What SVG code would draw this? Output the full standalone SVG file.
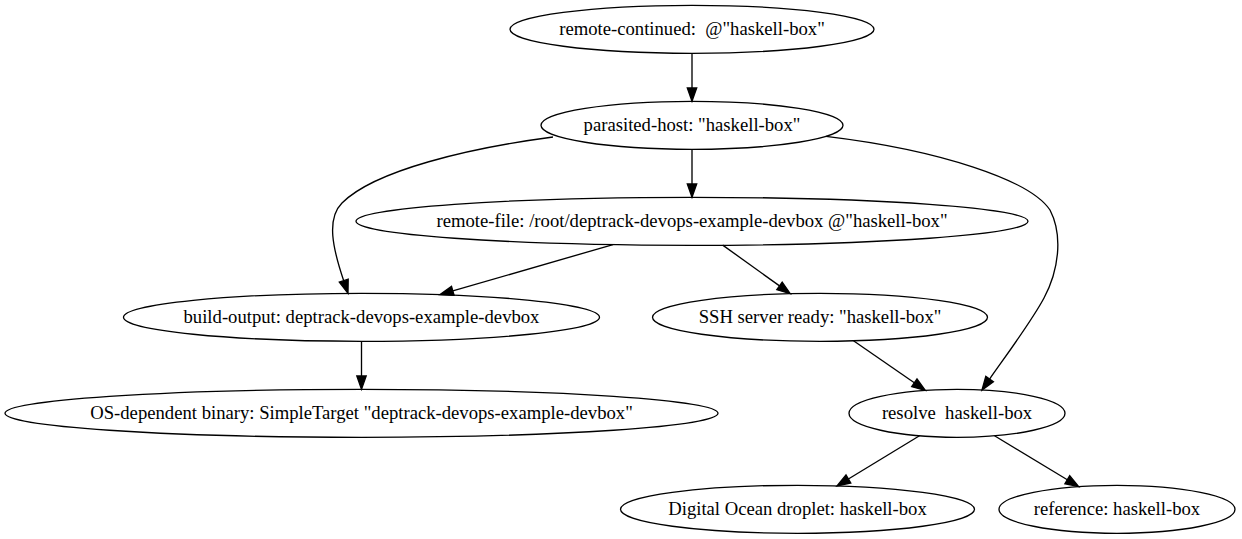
<svg xmlns="http://www.w3.org/2000/svg" width="1242" height="539" viewBox="0 0 1242 539">
<style>
.node ellipse{fill:none;stroke:#000;stroke-width:1.33}
.node text{font-size:18.67px;text-anchor:middle;fill:#000;white-space:pre}
.edge path{fill:none;stroke:#000;stroke-width:1.33}
.edge polygon{fill:#000;stroke:#000;stroke-width:1.33}
</style>
<rect width="1242" height="539" fill="#fff"/>
<g id="nodes" font-family="Liberation Serif, DejaVu Serif, serif">
<g id="n1" class="node"><ellipse cx="692" cy="29.3" rx="182" ry="24"/><text x="692" y="34.9" xml:space="preserve">remote-continued:  @"haskell-box"</text></g>
<g id="n2" class="node"><ellipse cx="692" cy="125.3" rx="151" ry="24"/><text x="692" y="130.9">parasited-host: "haskell-box"</text></g>
<g id="n3" class="node"><ellipse cx="692" cy="221.3" rx="336" ry="24"/><text x="692" y="226.9">remote-file: /root/deptrack-devops-example-devbox @"haskell-box"</text></g>
<g id="n4" class="node"><ellipse cx="361.5" cy="317.3" rx="238" ry="24"/><text x="361.5" y="322.9">build-output: deptrack-devops-example-devbox</text></g>
<g id="n5" class="node"><ellipse cx="820" cy="317.3" rx="167.5" ry="24"/><text x="820" y="322.9">SSH server ready: "haskell-box"</text></g>
<g id="n6" class="node"><ellipse cx="361.5" cy="413.3" rx="356.5" ry="24"/><text x="361.5" y="418.9">OS-dependent binary: SimpleTarget "deptrack-devops-example-devbox"</text></g>
<g id="n7" class="node"><ellipse cx="957" cy="413.3" rx="108" ry="24"/><text x="957" y="418.9" xml:space="preserve">resolve  haskell-box</text></g>
<g id="n8" class="node"><ellipse cx="797.5" cy="509.3" rx="177" ry="24"/><text x="797.5" y="514.9">Digital Ocean droplet: haskell-box</text></g>
<g id="n9" class="node"><ellipse cx="1117" cy="509.3" rx="118" ry="24"/><text x="1117" y="514.9">reference: haskell-box</text></g>
</g>
<g id="edges">
<g class="edge"><path d="M692,53.3 L692,88"/><polygon points="692,101.3 687.3,88 696.7,88"/></g>
<g class="edge"><path d="M692,149.3 L692,184"/><polygon points="692,197.3 687.3,184 696.7,184"/></g>
<g class="edge"><path d="M553,137 C470,148 375,170 342,203 C326,219 333,249 343.7,280.7"/><polygon points="348,293.3 339.3,282.2 348.2,279.2"/></g>
<g class="edge"><path d="M826,136.3 C940,150 1030,180 1050,210 C1063,235 1059,270 1044,298 C1031,322.4 1001,362.4 989.6,379.05"/><polygon points="982,390 985.8,376.4 993.4,381.7"/></g>
<g class="edge"><path d="M613,244.6 L452.8,290.9"/><polygon points="440,294.6 451.5,286.4 454.1,295.4"/></g>
<g class="edge"><path d="M722.7,245.1 L779.5,285.9"/><polygon points="790.3,293.7 776.8,289.7 782.2,282.1"/></g>
<g class="edge"><path d="M361.5,341.3 L361.5,376"/><polygon points="361.5,389.3 356.8,376 366.2,376"/></g>
<g class="edge"><path d="M853.5,340.8 L914.3,382.8"/><polygon points="925.3,390.4 911.7,386.7 917,379"/></g>
<g class="edge"><path d="M919.5,435.8 L848.4,479"/><polygon points="837,485.9 846,475 850.8,483"/></g>
<g class="edge"><path d="M994.5,435.8 L1067.3,479.7"/><polygon points="1078.7,486.6 1064.9,483.7 1069.7,475.7"/></g>
</g>
</svg>
